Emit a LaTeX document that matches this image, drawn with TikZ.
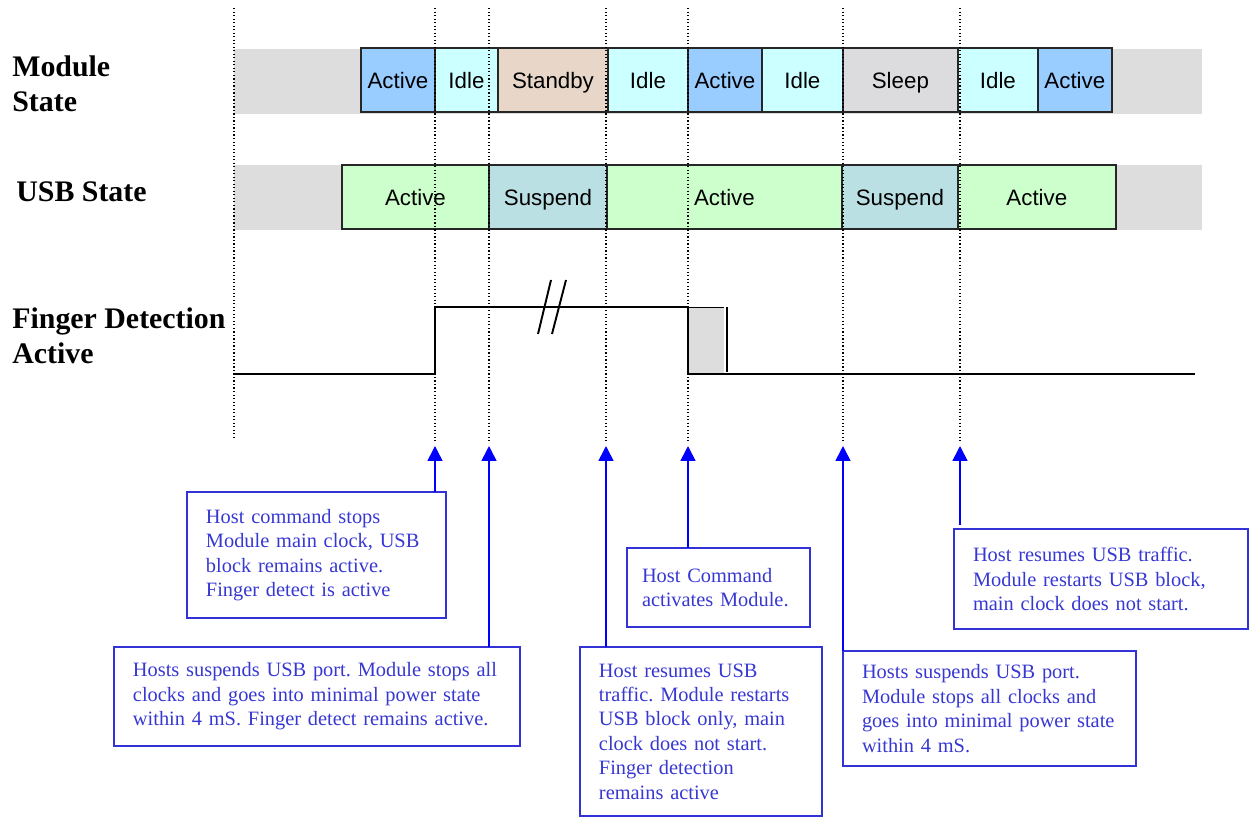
\documentclass[tikz,border=0pt]{standalone}
\usepackage{fontspec}
\setmainfont{Liberation Serif}
\newfontfamily\statefont{Liberation Sans}
\usetikzlibrary{positioning,arrows.meta}
\frenchspacing

\definecolor{modactive}{RGB}{153,204,255}
\definecolor{modidle}{RGB}{204,255,255}
\definecolor{standby}{RGB}{232,214,200}
\definecolor{sleep}{RGB}{220,220,223}
\definecolor{usbactive}{RGB}{204,255,204}
\definecolor{suspend}{RGB}{187,224,227}
\definecolor{band}{RGB}{221,221,221}
\definecolor{notetext}{RGB}{55,55,210}
\definecolor{noteborder}{RGB}{50,50,215}

\tikzset{
  statebox/.style={rectangle, draw=black!85, line width=0.8pt, minimum height=1.28cm,
    inner sep=0pt, outer sep=0pt, text height=12pt, text depth=2pt,
    font=\statefont\fontsize{12.7}{15}\selectfont},
  note/.style={rectangle, draw=noteborder, line width=0.9pt, text=notetext, align=left,
    inner xsep=0.38cm, inner ysep=0pt, outer sep=0pt, anchor=north west,
    font=\fontsize{11.6}{13.9}\selectfont},
  rowlabel/.style={anchor=west, align=left, inner sep=0pt,
    font=\bfseries\fontsize{17}{19.8}\selectfont},
  tick/.style={dash pattern=on 0.7pt off 1.3pt, line width=0.7pt},
  signal/.style={line width=1.1pt},
  evarrow/.style={draw=blue, line width=0.9pt, -{Triangle[width=0.3cm,length=0.3cm]}}
}

\begin{document}
\begin{tikzpicture}[x=0.02cm, y=-0.02cm]
\useasboundingbox (0,0) rectangle (1249,817);

% row labels
\node [rowlabel] (modlbl) at (12,84) {Module\\State};
\node [rowlabel] (usblbl) at (16,192) {USB State};
\node [rowlabel] (fdlbl) at (12,336) {Finger Detection\\Active};

% grey bands
\fill [band] (234,49) rectangle (1202,114);
\fill [band] (234,165) rectangle (1202,230);

% module state
\node [statebox, fill=modactive, minimum width=1.48cm, anchor=west] (m1) at (361,80) {Active};
\node [statebox, fill=modidle, minimum width=1.26cm, right=0pt of m1] (m2) {Idle};
\node [statebox, fill=standby, minimum width=2.2cm, right=0pt of m2] (m3) {Standby};
\node [statebox, fill=modidle, minimum width=1.6cm, right=0pt of m3] (m4) {Idle};
\node [statebox, fill=modactive, minimum width=1.48cm, right=0pt of m4] (m5) {Active};
\node [statebox, fill=modidle, minimum width=1.62cm, right=0pt of m5] (m6) {Idle};
\node [statebox, fill=sleep, minimum width=2.3cm, right=0pt of m6] (m7) {Sleep};
\node [statebox, fill=modidle, minimum width=1.6cm, right=0pt of m7] (m8) {Idle};
\node [statebox, fill=modactive, minimum width=1.48cm, right=0pt of m8] (m9) {Active};

% usb state
\node [statebox, fill=usbactive, minimum width=2.94cm, anchor=west] (u1) at (342,197) {Active};
\node [statebox, fill=suspend, minimum width=2.36cm, right=0pt of u1] (u2) {Suspend};
\node [statebox, fill=usbactive, minimum width=4.7cm, right=0pt of u2] (u3) {Active};
\node [statebox, fill=suspend, minimum width=2.32cm, right=0pt of u3] (u4) {Suspend};
\node [statebox, fill=usbactive, minimum width=3.16cm, right=0pt of u4] (u5) {Active};

% event ticks
\coordinate (a1) at (435,446);
\coordinate (a2) at (489,446);
\coordinate (a3) at (606,446);
\coordinate (a4) at (688,446);
\coordinate (a5) at (843,446);
\coordinate (a6) at (960,446);
\draw [tick] (234,8) -- (234,440);
\draw [tick] (435,8) -- (435,443);
\draw [tick] (489,8) -- (489,443);
\draw [tick] (606,8) -- (606,443);
\draw [tick] (688,8) -- (688,443);
\draw [tick] (843,8) -- (843,443);
\draw [tick] (960,8) -- (960,443);

% finger detection signal
\fill [band] (688,307) rectangle (724,374);
\draw [line width=0.4pt] (688,307) -- (724,307);
\draw [signal] (234,374) -- (435,374) -- (435,307) -- (688,307) -- (688,374) -- (1195,374);
\draw [signal] (727,307) -- (727,372);
\draw [signal] (538,334) -- (551,280);
\draw [signal] (552,334) -- (566,280);

% notes
\node [note, text width=4.42cm, minimum height=2.52cm] (n1) at (187,492)
  {Host command stops\\Module main clock, USB\\block remains active.\\Finger detect is active};
\node [note, text width=7.36cm, minimum height=1.98cm] (n2) at (114,647)
  {Hosts suspends USB port. Module stops all\\clocks and goes into minimal power state\\within 4 mS. Finger detect remains active.};
\node [note, inner xsep=0.3cm, text width=3.06cm, minimum height=1.58cm] (n3) at (627,548)
  {Host Command\\activates Module.};
\node [note, text width=4.08cm, minimum height=3.38cm] (n4) at (580,647)
  {Host resumes USB\\traffic. Module restarts\\USB block only, main\\clock does not start.\\Finger detection\\remains active};
\node [note, text width=5.1cm, minimum height=2.3cm] (n5) at (843,651)
  {Hosts suspends USB port.\\Module stops all clocks and\\goes into minimal power state\\within 4 mS.};
\node [note, text width=5.12cm, minimum height=2cm] (n6) at (954,529)
  {Host resumes USB traffic.\\Module restarts USB block,\\main clock does not start.};

\draw [evarrow] (n1.north -| a1) -- (a1);
\draw [evarrow] (n2.north -| a2) -- (a2);
\draw [evarrow] (n4.north -| a3) -- (a3);
\draw [evarrow] (n3.north -| a4) -- (a4);
\draw [evarrow] (n5.north -| a5) -- (a5);
\draw [evarrow] ([yshift=0.08cm]n6.north -| a6) -- (a6);
\end{tikzpicture}
\end{document}
